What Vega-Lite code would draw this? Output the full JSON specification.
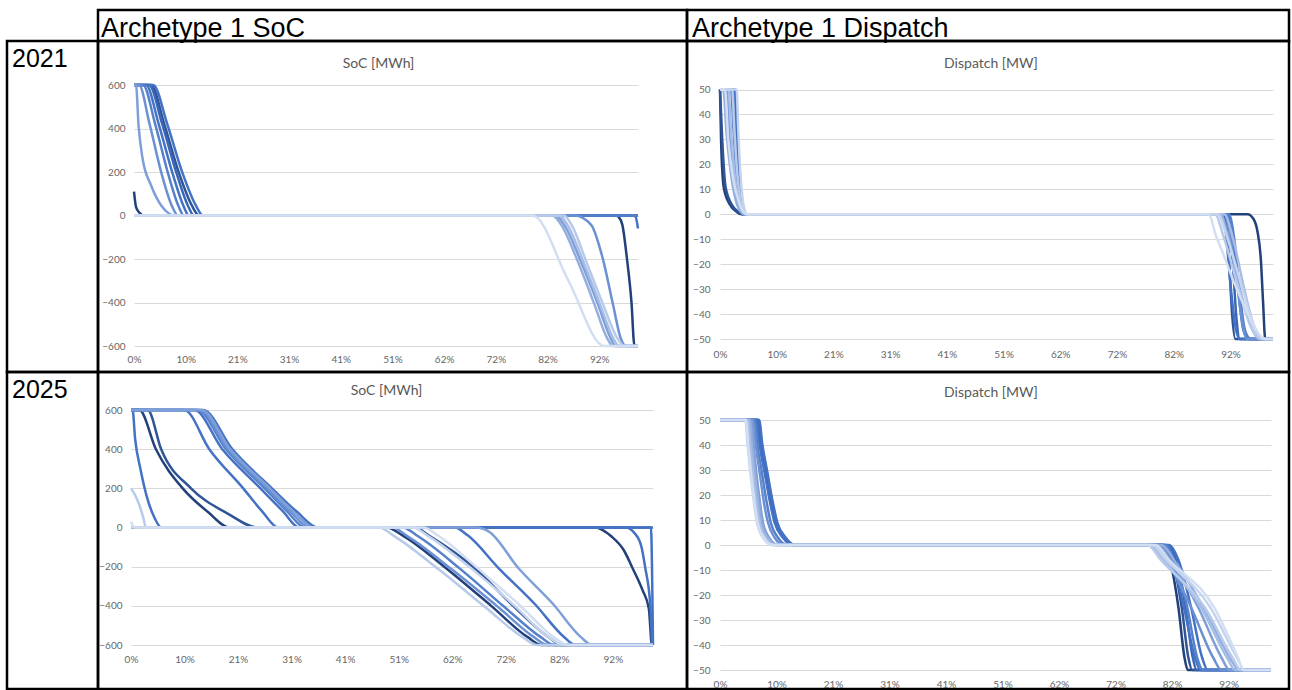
{
"$schema": "https://vega.github.io/schema/vega-lite/v6.json",
"background": "white",
"padding": {"left": 5, "top": 8, "right": 0, "bottom": 0},
"config": {
  "view": {"stroke": "black", "strokeWidth": 2.5},
  "axis": {"labelFont": "Lato", "labelFontSize": 10, "labelColor": "#666666", "domain": false, "ticks": false, "labelFlush": false, "labelOverlap": false, "gridColor": "#D9D9D9", "gridWidth": 1},
  "axisX": {"grid": false},
  "axisY": {"grid": true},
  "title": {"font": "Lato", "fontSize": 14, "fontWeight": "normal", "color": "#595959", "anchor": "middle"},
  "line": {"interpolate": "monotone", "strokeWidth": 2.5}
},
"datasets": {
"soc21": [
{"s":1,"c":1,"t":0,"v":110},{"s":1,"c":1,"t":0.004,"v":40},{"s":1,"c":1,"t":0.01,"v":15},{"s":1,"c":1,"t":0.02,"v":0},{"s":1,"c":1,"t":0.956,"v":0},{"s":1,"c":1,"t":0.962,"v":-8},{"s":1,"c":1,"t":0.969,"v":-43},{"s":1,"c":1,"t":0.978,"v":-197},{"s":1,"c":1,"t":0.987,"v":-397},{"s":1,"c":1,"t":0.993,"v":-600},{"s":1,"c":1,"t":1,"v":-600},
{"s":2,"c":2,"t":0,"v":600},{"s":2,"c":2,"t":0.034,"v":600},{"s":2,"c":2,"t":0.06,"v":420},{"s":2,"c":2,"t":0.09,"v":190},{"s":2,"c":2,"t":0.115,"v":45},{"s":2,"c":2,"t":0.129,"v":0},{"s":2,"c":2,"t":1,"v":0},
{"s":3,"c":3,"t":0,"v":600},{"s":3,"c":3,"t":0.03,"v":600},{"s":3,"c":3,"t":0.056,"v":420},{"s":3,"c":3,"t":0.085,"v":190},{"s":3,"c":3,"t":0.107,"v":45},{"s":3,"c":3,"t":0.119,"v":0},{"s":3,"c":3,"t":1,"v":0},
{"s":4,"c":4,"t":0,"v":600},{"s":4,"c":4,"t":0.038,"v":600},{"s":4,"c":4,"t":0.066,"v":420},{"s":4,"c":4,"t":0.097,"v":190},{"s":4,"c":4,"t":0.123,"v":45},{"s":4,"c":4,"t":0.137,"v":0},{"s":4,"c":4,"t":0.99,"v":0},{"s":4,"c":4,"t":0.995,"v":-5},{"s":4,"c":4,"t":1,"v":-60},
{"s":5,"c":4,"t":0,"v":600},{"s":5,"c":4,"t":0.024,"v":600},{"s":5,"c":4,"t":0.049,"v":420},{"s":5,"c":4,"t":0.077,"v":190},{"s":5,"c":4,"t":0.098,"v":45},{"s":5,"c":4,"t":0.109,"v":0},{"s":5,"c":4,"t":1,"v":0},
{"s":6,"c":5,"t":0,"v":600},{"s":6,"c":5,"t":0.018,"v":600},{"s":6,"c":5,"t":0.042,"v":420},{"s":6,"c":5,"t":0.068,"v":190},{"s":6,"c":5,"t":0.088,"v":45},{"s":6,"c":5,"t":0.099,"v":0},{"s":6,"c":5,"t":1,"v":0},
{"s":7,"c":6,"t":0,"v":600},{"s":7,"c":6,"t":0.01,"v":600},{"s":7,"c":6,"t":0.031,"v":420},{"s":7,"c":6,"t":0.055,"v":190},{"s":7,"c":6,"t":0.075,"v":45},{"s":7,"c":6,"t":0.087,"v":0},{"s":7,"c":6,"t":0.874,"v":0},{"s":7,"c":6,"t":0.907,"v":-43},{"s":7,"c":6,"t":0.93,"v":-197},{"s":7,"c":6,"t":0.95,"v":-405},{"s":7,"c":6,"t":0.966,"v":-566},{"s":7,"c":6,"t":0.976,"v":-600},{"s":7,"c":6,"t":1,"v":-600},
{"s":8,"c":7,"t":0,"v":600},{"s":8,"c":7,"t":0.004,"v":600},{"s":8,"c":7,"t":0.009,"v":415},{"s":8,"c":7,"t":0.017,"v":262},{"s":8,"c":7,"t":0.034,"v":138},{"s":8,"c":7,"t":0.054,"v":46},{"s":8,"c":7,"t":0.07,"v":8},{"s":8,"c":7,"t":0.08,"v":0},{"s":8,"c":7,"t":0.835,"v":0},{"s":8,"c":7,"t":0.858,"v":-60},{"s":8,"c":7,"t":0.884,"v":-197},{"s":8,"c":7,"t":0.92,"v":-405},{"s":8,"c":7,"t":0.945,"v":-560},{"s":8,"c":7,"t":0.955,"v":-600},{"s":8,"c":7,"t":1,"v":-600},
{"s":9,"c":8,"t":0,"v":0},{"s":9,"c":8,"t":0.83,"v":0},{"s":9,"c":8,"t":0.852,"v":-60},{"s":9,"c":8,"t":0.878,"v":-197},{"s":9,"c":8,"t":0.913,"v":-405},{"s":9,"c":8,"t":0.938,"v":-560},{"s":9,"c":8,"t":0.95,"v":-600},{"s":9,"c":8,"t":1,"v":-600},
{"s":10,"c":9,"t":0,"v":0},{"s":10,"c":9,"t":0.842,"v":0},{"s":10,"c":9,"t":0.864,"v":-60},{"s":10,"c":9,"t":0.889,"v":-197},{"s":10,"c":9,"t":0.924,"v":-405},{"s":10,"c":9,"t":0.95,"v":-560},{"s":10,"c":9,"t":0.962,"v":-600},{"s":10,"c":9,"t":1,"v":-600},
{"s":11,"c":10,"t":0,"v":0},{"s":11,"c":10,"t":0.852,"v":0},{"s":11,"c":10,"t":0.872,"v":-60},{"s":11,"c":10,"t":0.895,"v":-197},{"s":11,"c":10,"t":0.93,"v":-405},{"s":11,"c":10,"t":0.958,"v":-560},{"s":11,"c":10,"t":0.973,"v":-600},{"s":11,"c":10,"t":1,"v":-600},
{"s":12,"c":12,"t":0,"v":0},{"s":12,"c":12,"t":0.791,"v":0},{"s":12,"c":12,"t":0.862,"v":-300},{"s":12,"c":12,"t":0.933,"v":-600},{"s":12,"c":12,"t":1,"v":-600}
],
"dis21": [
{"s":1,"c":1,"t":0,"v":50},{"s":1,"c":1,"t":0.002,"v":29},{"s":1,"c":1,"t":0.007,"v":10.5},{"s":1,"c":1,"t":0.018,"v":3.8},{"s":1,"c":1,"t":0.03,"v":1},{"s":1,"c":1,"t":0.039,"v":0},{"s":1,"c":1,"t":0.954,"v":0},{"s":1,"c":1,"t":0.965,"v":-2},{"s":1,"c":1,"t":0.972,"v":-7},{"s":1,"c":1,"t":0.978,"v":-18},{"s":1,"c":1,"t":0.982,"v":-35},{"s":1,"c":1,"t":0.986,"v":-50},{"s":1,"c":1,"t":1,"v":-50},
{"s":2,"c":2,"t":0,"v":50},{"s":2,"c":2,"t":0.004,"v":30},{"s":2,"c":2,"t":0.01,"v":11},{"s":2,"c":2,"t":0.021,"v":4},{"s":2,"c":2,"t":0.033,"v":1},{"s":2,"c":2,"t":0.042,"v":0},{"s":2,"c":2,"t":0.91,"v":0},{"s":2,"c":2,"t":0.916,"v":-5},{"s":2,"c":2,"t":0.921,"v":-20},{"s":2,"c":2,"t":0.926,"v":-40},{"s":2,"c":2,"t":0.932,"v":-50},{"s":2,"c":2,"t":1,"v":-50},
{"s":3,"c":3,"t":0,"v":50},{"s":3,"c":3,"t":0.026,"v":50},{"s":3,"c":3,"t":0.029,"v":38},{"s":3,"c":3,"t":0.033,"v":18},{"s":3,"c":3,"t":0.037,"v":6},{"s":3,"c":3,"t":0.041,"v":1.5},{"s":3,"c":3,"t":0.046,"v":0},{"s":3,"c":3,"t":0.915,"v":0},{"s":3,"c":3,"t":0.922,"v":-6},{"s":3,"c":3,"t":0.928,"v":-22},{"s":3,"c":3,"t":0.934,"v":-42},{"s":3,"c":3,"t":0.94,"v":-50},{"s":3,"c":3,"t":1,"v":-50},
{"s":4,"c":4,"t":0,"v":50},{"s":4,"c":4,"t":0.024,"v":50},{"s":4,"c":4,"t":0.027,"v":40},{"s":4,"c":4,"t":0.031,"v":20},{"s":4,"c":4,"t":0.034,"v":8},{"s":4,"c":4,"t":0.038,"v":2},{"s":4,"c":4,"t":0.044,"v":0},{"s":4,"c":4,"t":0.908,"v":0},{"s":4,"c":4,"t":0.915,"v":-8},{"s":4,"c":4,"t":0.923,"v":-28},{"s":4,"c":4,"t":0.932,"v":-45},{"s":4,"c":4,"t":0.94,"v":-50},{"s":4,"c":4,"t":1,"v":-50},
{"s":5,"c":4,"t":0,"v":50},{"s":5,"c":4,"t":0.028,"v":50},{"s":5,"c":4,"t":0.031,"v":38},{"s":5,"c":4,"t":0.035,"v":18},{"s":5,"c":4,"t":0.039,"v":6},{"s":5,"c":4,"t":0.043,"v":1.5},{"s":5,"c":4,"t":0.047,"v":0},{"s":5,"c":4,"t":0.918,"v":0},{"s":5,"c":4,"t":0.927,"v":-8},{"s":5,"c":4,"t":0.936,"v":-28},{"s":5,"c":4,"t":0.946,"v":-46},{"s":5,"c":4,"t":0.955,"v":-50},{"s":5,"c":4,"t":1,"v":-50},
{"s":6,"c":5,"t":0,"v":50},{"s":6,"c":5,"t":0.02,"v":50},{"s":6,"c":5,"t":0.024,"v":36},{"s":6,"c":5,"t":0.029,"v":17},{"s":6,"c":5,"t":0.034,"v":6},{"s":6,"c":5,"t":0.039,"v":1.5},{"s":6,"c":5,"t":0.045,"v":0},{"s":6,"c":5,"t":0.92,"v":0},{"s":6,"c":5,"t":0.93,"v":-10},{"s":6,"c":5,"t":0.94,"v":-32},{"s":6,"c":5,"t":0.95,"v":-47},{"s":6,"c":5,"t":0.96,"v":-50},{"s":6,"c":5,"t":1,"v":-50},
{"s":7,"c":6,"t":0,"v":50},{"s":7,"c":6,"t":0.012,"v":50},{"s":7,"c":6,"t":0.017,"v":32},{"s":7,"c":6,"t":0.024,"v":15},{"s":7,"c":6,"t":0.031,"v":5},{"s":7,"c":6,"t":0.038,"v":1},{"s":7,"c":6,"t":0.044,"v":0},{"s":7,"c":6,"t":0.912,"v":0},{"s":7,"c":6,"t":0.922,"v":-8},{"s":7,"c":6,"t":0.935,"v":-28},{"s":7,"c":6,"t":0.945,"v":-44},{"s":7,"c":6,"t":0.952,"v":-50},{"s":7,"c":6,"t":1,"v":-50},
{"s":8,"c":8,"t":0,"v":50},{"s":8,"c":8,"t":0.006,"v":50},{"s":8,"c":8,"t":0.012,"v":32},{"s":8,"c":8,"t":0.02,"v":16},{"s":8,"c":8,"t":0.028,"v":6},{"s":8,"c":8,"t":0.036,"v":1.5},{"s":8,"c":8,"t":0.045,"v":0},{"s":8,"c":8,"t":0.905,"v":0},{"s":8,"c":8,"t":0.92,"v":-10},{"s":8,"c":8,"t":0.94,"v":-30},{"s":8,"c":8,"t":0.96,"v":-45},{"s":8,"c":8,"t":0.975,"v":-50},{"s":8,"c":8,"t":1,"v":-50},
{"s":9,"c":9,"t":0,"v":50},{"s":9,"c":9,"t":0.015,"v":50},{"s":9,"c":9,"t":0.02,"v":33},{"s":9,"c":9,"t":0.026,"v":17},{"s":9,"c":9,"t":0.032,"v":7},{"s":9,"c":9,"t":0.039,"v":2},{"s":9,"c":9,"t":0.047,"v":0},{"s":9,"c":9,"t":0.912,"v":0},{"s":9,"c":9,"t":0.928,"v":-10},{"s":9,"c":9,"t":0.948,"v":-30},{"s":9,"c":9,"t":0.966,"v":-45},{"s":9,"c":9,"t":0.98,"v":-50},{"s":9,"c":9,"t":1,"v":-50},
{"s":10,"c":10,"t":0,"v":50},{"s":10,"c":10,"t":0.022,"v":50},{"s":10,"c":10,"t":0.026,"v":34},{"s":10,"c":10,"t":0.031,"v":17},{"s":10,"c":10,"t":0.036,"v":7},{"s":10,"c":10,"t":0.041,"v":2},{"s":10,"c":10,"t":0.048,"v":0},{"s":10,"c":10,"t":0.895,"v":0},{"s":10,"c":10,"t":0.912,"v":-10},{"s":10,"c":10,"t":0.938,"v":-30},{"s":10,"c":10,"t":0.962,"v":-46},{"s":10,"c":10,"t":0.978,"v":-50},{"s":10,"c":10,"t":1,"v":-50},
{"s":11,"c":11,"t":0,"v":50},{"s":11,"c":11,"t":0.03,"v":50},{"s":11,"c":11,"t":0.033,"v":34},{"s":11,"c":11,"t":0.037,"v":16},{"s":11,"c":11,"t":0.041,"v":6},{"s":11,"c":11,"t":0.045,"v":1.5},{"s":11,"c":11,"t":0.049,"v":0},{"s":11,"c":11,"t":0.9,"v":0},{"s":11,"c":11,"t":0.918,"v":-10},{"s":11,"c":11,"t":0.945,"v":-30},{"s":11,"c":11,"t":0.968,"v":-46},{"s":11,"c":11,"t":0.986,"v":-50},{"s":11,"c":11,"t":1,"v":-50},
{"s":12,"c":12,"t":0,"v":50},{"s":12,"c":12,"t":0.009,"v":50},{"s":12,"c":12,"t":0.015,"v":30},{"s":12,"c":12,"t":0.024,"v":14},{"s":12,"c":12,"t":0.034,"v":5},{"s":12,"c":12,"t":0.042,"v":1},{"s":12,"c":12,"t":0.05,"v":0},{"s":12,"c":12,"t":0.884,"v":0},{"s":12,"c":12,"t":0.896,"v":-8},{"s":12,"c":12,"t":0.912,"v":-17},{"s":12,"c":12,"t":0.929,"v":-27},{"s":12,"c":12,"t":0.955,"v":-40},{"s":12,"c":12,"t":0.978,"v":-49},{"s":12,"c":12,"t":0.985,"v":-50},{"s":12,"c":12,"t":1,"v":-50}
],
"soc25": [
{"s":1,"c":1,"t":0,"v":600},{"s":1,"c":1,"t":0.016,"v":600},{"s":1,"c":1,"t":0.048,"v":398},{"s":1,"c":1,"t":0.099,"v":200},{"s":1,"c":1,"t":0.147,"v":80},{"s":1,"c":1,"t":0.189,"v":0},{"s":1,"c":1,"t":0.49,"v":0},{"s":1,"c":1,"t":0.52,"v":-40},{"s":1,"c":1,"t":0.6,"v":-200},{"s":1,"c":1,"t":0.69,"v":-400},{"s":1,"c":1,"t":0.76,"v":-560},{"s":1,"c":1,"t":0.787,"v":-600},{"s":1,"c":1,"t":1,"v":-600},
{"s":3,"c":1,"t":0,"v":0},{"s":3,"c":1,"t":0.889,"v":0},{"s":3,"c":1,"t":0.92,"v":-45},{"s":3,"c":1,"t":0.945,"v":-120},{"s":3,"c":1,"t":0.96,"v":-203},{"s":3,"c":1,"t":0.98,"v":-320},{"s":3,"c":1,"t":0.992,"v":-414},{"s":3,"c":1,"t":0.998,"v":-600},{"s":3,"c":1,"t":1,"v":-600},
{"s":2,"c":2,"t":0,"v":600},{"s":2,"c":2,"t":0.032,"v":600},{"s":2,"c":2,"t":0.058,"v":398},{"s":2,"c":2,"t":0.115,"v":200},{"s":2,"c":2,"t":0.186,"v":70},{"s":2,"c":2,"t":0.243,"v":0},{"s":2,"c":2,"t":0.544,"v":0},{"s":2,"c":2,"t":0.57,"v":-40},{"s":2,"c":2,"t":0.658,"v":-207},{"s":2,"c":2,"t":0.729,"v":-392},{"s":2,"c":2,"t":0.8,"v":-560},{"s":2,"c":2,"t":0.825,"v":-600},{"s":2,"c":2,"t":1,"v":-600},
{"s":4,"c":4,"t":0,"v":600},{"s":4,"c":4,"t":0.003,"v":600},{"s":4,"c":4,"t":0.008,"v":450},{"s":4,"c":4,"t":0.018,"v":300},{"s":4,"c":4,"t":0.03,"v":160},{"s":4,"c":4,"t":0.045,"v":50},{"s":4,"c":4,"t":0.058,"v":0},{"s":4,"c":4,"t":0.947,"v":0},{"s":4,"c":4,"t":0.965,"v":-30},{"s":4,"c":4,"t":0.978,"v":-100},{"s":4,"c":4,"t":0.985,"v":-203},{"s":4,"c":4,"t":0.995,"v":-403},{"s":4,"c":4,"t":0.999,"v":-600},{"s":4,"c":4,"t":1,"v":-600},
{"s":6,"c":4,"t":0,"v":600},{"s":6,"c":4,"t":0.121,"v":600},{"s":6,"c":4,"t":0.175,"v":400},{"s":6,"c":4,"t":0.248,"v":200},{"s":6,"c":4,"t":0.292,"v":80},{"s":6,"c":4,"t":0.322,"v":0},{"s":6,"c":4,"t":0.62,"v":0},{"s":6,"c":4,"t":0.645,"v":-40},{"s":6,"c":4,"t":0.704,"v":-207},{"s":6,"c":4,"t":0.774,"v":-392},{"s":6,"c":4,"t":0.83,"v":-560},{"s":6,"c":4,"t":0.851,"v":-600},{"s":6,"c":4,"t":1,"v":-600},
{"s":10,"c":4,"t":0,"v":600},{"s":10,"c":4,"t":0.102,"v":600},{"s":10,"c":4,"t":0.15,"v":400},{"s":10,"c":4,"t":0.215,"v":200},{"s":10,"c":4,"t":0.252,"v":80},{"s":10,"c":4,"t":0.282,"v":0},{"s":10,"c":4,"t":1,"v":0},
{"s":5,"c":4,"t":0,"v":600},{"s":5,"c":4,"t":0.138,"v":600},{"s":5,"c":4,"t":0.194,"v":400},{"s":5,"c":4,"t":0.27,"v":200},{"s":5,"c":4,"t":0.318,"v":80},{"s":5,"c":4,"t":0.358,"v":0},{"s":5,"c":4,"t":0.996,"v":0},{"s":5,"c":4,"t":1,"v":-600},
{"s":7,"c":5,"t":0,"v":600},{"s":7,"c":5,"t":0.127,"v":600},{"s":7,"c":5,"t":0.182,"v":400},{"s":7,"c":5,"t":0.256,"v":200},{"s":7,"c":5,"t":0.3,"v":80},{"s":7,"c":5,"t":0.333,"v":0},{"s":7,"c":5,"t":0.52,"v":0},{"s":7,"c":5,"t":0.55,"v":-45},{"s":7,"c":5,"t":0.63,"v":-210},{"s":7,"c":5,"t":0.715,"v":-405},{"s":7,"c":5,"t":0.785,"v":-560},{"s":7,"c":5,"t":0.81,"v":-600},{"s":7,"c":5,"t":1,"v":-600},
{"s":8,"c":6,"t":0,"v":600},{"s":8,"c":6,"t":0.131,"v":600},{"s":8,"c":6,"t":0.186,"v":400},{"s":8,"c":6,"t":0.261,"v":200},{"s":8,"c":6,"t":0.306,"v":80},{"s":8,"c":6,"t":0.342,"v":0},{"s":8,"c":6,"t":0.5,"v":0},{"s":8,"c":6,"t":0.53,"v":-45},{"s":8,"c":6,"t":0.615,"v":-215},{"s":8,"c":6,"t":0.705,"v":-410},{"s":8,"c":6,"t":0.772,"v":-560},{"s":8,"c":6,"t":0.798,"v":-600},{"s":8,"c":6,"t":1,"v":-600},
{"s":9,"c":7,"t":0,"v":600},{"s":9,"c":7,"t":0.135,"v":600},{"s":9,"c":7,"t":0.19,"v":400},{"s":9,"c":7,"t":0.266,"v":200},{"s":9,"c":7,"t":0.312,"v":80},{"s":9,"c":7,"t":0.35,"v":0},{"s":9,"c":7,"t":0.66,"v":0},{"s":9,"c":7,"t":0.685,"v":-20},{"s":9,"c":7,"t":0.742,"v":-207},{"s":9,"c":7,"t":0.809,"v":-392},{"s":9,"c":7,"t":0.862,"v":-560},{"s":9,"c":7,"t":0.883,"v":-600},{"s":9,"c":7,"t":1,"v":-600},
{"s":11,"c":10,"t":0,"v":200},{"s":11,"c":10,"t":0.008,"v":165},{"s":11,"c":10,"t":0.016,"v":115},{"s":11,"c":10,"t":0.023,"v":55},{"s":11,"c":10,"t":0.029,"v":0},{"s":11,"c":10,"t":0.475,"v":0},{"s":11,"c":10,"t":0.505,"v":-45},{"s":11,"c":10,"t":0.59,"v":-215},{"s":11,"c":10,"t":0.68,"v":-410},{"s":11,"c":10,"t":0.75,"v":-560},{"s":11,"c":10,"t":0.778,"v":-600},{"s":11,"c":10,"t":1,"v":-600},
{"s":13,"c":11,"t":0,"v":0},{"s":13,"c":11,"t":0.54,"v":0},{"s":13,"c":11,"t":0.57,"v":-45},{"s":13,"c":11,"t":0.65,"v":-205},{"s":13,"c":11,"t":0.735,"v":-400},{"s":13,"c":11,"t":0.8,"v":-560},{"s":13,"c":11,"t":0.83,"v":-600},{"s":13,"c":11,"t":1,"v":-600},
{"s":12,"c":12,"t":0,"v":30},{"s":12,"c":12,"t":0.004,"v":8},{"s":12,"c":12,"t":0.008,"v":0},{"s":12,"c":12,"t":0.56,"v":0},{"s":12,"c":12,"t":0.59,"v":-45},{"s":12,"c":12,"t":0.665,"v":-210},{"s":12,"c":12,"t":0.748,"v":-405},{"s":12,"c":12,"t":0.81,"v":-560},{"s":12,"c":12,"t":0.838,"v":-600},{"s":12,"c":12,"t":1,"v":-600}
],
"dis25": [
{"s":1,"c":1,"t":0,"v":50},{"s":1,"c":1,"t":0.069,"v":50},{"s":1,"c":1,"t":0.075,"v":40},{"s":1,"c":1,"t":0.084,"v":29},{"s":1,"c":1,"t":0.093,"v":18},{"s":1,"c":1,"t":0.102,"v":9},{"s":1,"c":1,"t":0.117,"v":3},{"s":1,"c":1,"t":0.134,"v":0},{"s":1,"c":1,"t":0.8,"v":0},{"s":1,"c":1,"t":0.815,"v":-5},{"s":1,"c":1,"t":0.832,"v":-25},{"s":1,"c":1,"t":0.843,"v":-45},{"s":1,"c":1,"t":0.849,"v":-50},{"s":1,"c":1,"t":1,"v":-50},
{"s":2,"c":2,"t":0,"v":50},{"s":2,"c":2,"t":0.067,"v":50},{"s":2,"c":2,"t":0.073,"v":40},{"s":2,"c":2,"t":0.082,"v":29},{"s":2,"c":2,"t":0.091,"v":18},{"s":2,"c":2,"t":0.1,"v":9},{"s":2,"c":2,"t":0.115,"v":3},{"s":2,"c":2,"t":0.132,"v":0},{"s":2,"c":2,"t":0.805,"v":0},{"s":2,"c":2,"t":0.82,"v":-5},{"s":2,"c":2,"t":0.838,"v":-25},{"s":2,"c":2,"t":0.85,"v":-45},{"s":2,"c":2,"t":0.857,"v":-50},{"s":2,"c":2,"t":1,"v":-50},
{"s":3,"c":3,"t":0,"v":50},{"s":3,"c":3,"t":0.07,"v":50},{"s":3,"c":3,"t":0.076,"v":40},{"s":3,"c":3,"t":0.085,"v":29},{"s":3,"c":3,"t":0.094,"v":18},{"s":3,"c":3,"t":0.103,"v":9},{"s":3,"c":3,"t":0.118,"v":3},{"s":3,"c":3,"t":0.135,"v":0},{"s":3,"c":3,"t":0.81,"v":0},{"s":3,"c":3,"t":0.826,"v":-5},{"s":3,"c":3,"t":0.845,"v":-25},{"s":3,"c":3,"t":0.858,"v":-45},{"s":3,"c":3,"t":0.865,"v":-50},{"s":3,"c":3,"t":1,"v":-50},
{"s":4,"c":4,"t":0,"v":50},{"s":4,"c":4,"t":0.066,"v":50},{"s":4,"c":4,"t":0.072,"v":40},{"s":4,"c":4,"t":0.081,"v":29},{"s":4,"c":4,"t":0.09,"v":18},{"s":4,"c":4,"t":0.099,"v":9},{"s":4,"c":4,"t":0.114,"v":3},{"s":4,"c":4,"t":0.131,"v":0},{"s":4,"c":4,"t":0.803,"v":0},{"s":4,"c":4,"t":0.82,"v":-6},{"s":4,"c":4,"t":0.842,"v":-25},{"s":4,"c":4,"t":0.862,"v":-45},{"s":4,"c":4,"t":0.872,"v":-50},{"s":4,"c":4,"t":1,"v":-50},
{"s":5,"c":4,"t":0,"v":50},{"s":5,"c":4,"t":0.071,"v":50},{"s":5,"c":4,"t":0.077,"v":40},{"s":5,"c":4,"t":0.086,"v":29},{"s":5,"c":4,"t":0.095,"v":18},{"s":5,"c":4,"t":0.104,"v":9},{"s":5,"c":4,"t":0.119,"v":3},{"s":5,"c":4,"t":0.136,"v":0},{"s":5,"c":4,"t":0.815,"v":0},{"s":5,"c":4,"t":0.832,"v":-6},{"s":5,"c":4,"t":0.855,"v":-25},{"s":5,"c":4,"t":0.875,"v":-45},{"s":5,"c":4,"t":0.885,"v":-50},{"s":5,"c":4,"t":1,"v":-50},
{"s":6,"c":5,"t":0,"v":50},{"s":6,"c":5,"t":0.063,"v":50},{"s":6,"c":5,"t":0.068,"v":40},{"s":6,"c":5,"t":0.076,"v":29},{"s":6,"c":5,"t":0.084,"v":18},{"s":6,"c":5,"t":0.092,"v":9},{"s":6,"c":5,"t":0.105,"v":3},{"s":6,"c":5,"t":0.122,"v":0},{"s":6,"c":5,"t":0.808,"v":0},{"s":6,"c":5,"t":0.824,"v":-6},{"s":6,"c":5,"t":0.848,"v":-25},{"s":6,"c":5,"t":0.866,"v":-45},{"s":6,"c":5,"t":0.876,"v":-50},{"s":6,"c":5,"t":1,"v":-50},
{"s":7,"c":6,"t":0,"v":50},{"s":7,"c":6,"t":0.06,"v":50},{"s":7,"c":6,"t":0.065,"v":40},{"s":7,"c":6,"t":0.072,"v":29},{"s":7,"c":6,"t":0.079,"v":18},{"s":7,"c":6,"t":0.087,"v":9},{"s":7,"c":6,"t":0.099,"v":3},{"s":7,"c":6,"t":0.115,"v":0},{"s":7,"c":6,"t":0.79,"v":0},{"s":7,"c":6,"t":0.81,"v":-6},{"s":7,"c":6,"t":0.855,"v":-25},{"s":7,"c":6,"t":0.895,"v":-45},{"s":7,"c":6,"t":0.91,"v":-50},{"s":7,"c":6,"t":1,"v":-50},
{"s":8,"c":7,"t":0,"v":50},{"s":8,"c":7,"t":0.057,"v":50},{"s":8,"c":7,"t":0.061,"v":40},{"s":8,"c":7,"t":0.066,"v":29},{"s":8,"c":7,"t":0.072,"v":18},{"s":8,"c":7,"t":0.078,"v":9},{"s":8,"c":7,"t":0.089,"v":3},{"s":8,"c":7,"t":0.105,"v":0},{"s":8,"c":7,"t":0.795,"v":0},{"s":8,"c":7,"t":0.818,"v":-6},{"s":8,"c":7,"t":0.868,"v":-25},{"s":8,"c":7,"t":0.91,"v":-45},{"s":8,"c":7,"t":0.925,"v":-50},{"s":8,"c":7,"t":1,"v":-50},
{"s":9,"c":8,"t":0,"v":50},{"s":9,"c":8,"t":0.054,"v":50},{"s":9,"c":8,"t":0.058,"v":40},{"s":9,"c":8,"t":0.063,"v":29},{"s":9,"c":8,"t":0.069,"v":18},{"s":9,"c":8,"t":0.075,"v":9},{"s":9,"c":8,"t":0.086,"v":3},{"s":9,"c":8,"t":0.102,"v":0},{"s":9,"c":8,"t":0.8,"v":0},{"s":9,"c":8,"t":0.83,"v":-8},{"s":9,"c":8,"t":0.885,"v":-28},{"s":9,"c":8,"t":0.925,"v":-45},{"s":9,"c":8,"t":0.942,"v":-50},{"s":9,"c":8,"t":1,"v":-50},
{"s":10,"c":9,"t":0,"v":50},{"s":10,"c":9,"t":0.051,"v":50},{"s":10,"c":9,"t":0.055,"v":40},{"s":10,"c":9,"t":0.06,"v":29},{"s":10,"c":9,"t":0.066,"v":18},{"s":10,"c":9,"t":0.072,"v":9},{"s":10,"c":9,"t":0.083,"v":3},{"s":10,"c":9,"t":0.099,"v":0},{"s":10,"c":9,"t":0.78,"v":0},{"s":10,"c":9,"t":0.805,"v":-6},{"s":10,"c":9,"t":0.873,"v":-25},{"s":10,"c":9,"t":0.92,"v":-45},{"s":10,"c":9,"t":0.935,"v":-50},{"s":10,"c":9,"t":1,"v":-50},
{"s":11,"c":10,"t":0,"v":50},{"s":11,"c":10,"t":0.048,"v":50},{"s":11,"c":10,"t":0.052,"v":40},{"s":11,"c":10,"t":0.057,"v":29},{"s":11,"c":10,"t":0.063,"v":18},{"s":11,"c":10,"t":0.069,"v":9},{"s":11,"c":10,"t":0.08,"v":3},{"s":11,"c":10,"t":0.096,"v":0},{"s":11,"c":10,"t":0.776,"v":0},{"s":11,"c":10,"t":0.8,"v":-6},{"s":11,"c":10,"t":0.88,"v":-25},{"s":11,"c":10,"t":0.93,"v":-45},{"s":11,"c":10,"t":0.945,"v":-50},{"s":11,"c":10,"t":1,"v":-50},
{"s":12,"c":11,"t":0,"v":50},{"s":12,"c":11,"t":0.046,"v":50},{"s":12,"c":11,"t":0.05,"v":40},{"s":12,"c":11,"t":0.055,"v":29},{"s":12,"c":11,"t":0.061,"v":18},{"s":12,"c":11,"t":0.067,"v":9},{"s":12,"c":11,"t":0.078,"v":3},{"s":12,"c":11,"t":0.094,"v":0},{"s":12,"c":11,"t":0.785,"v":0},{"s":12,"c":11,"t":0.81,"v":-6},{"s":12,"c":11,"t":0.89,"v":-25},{"s":12,"c":11,"t":0.938,"v":-45},{"s":12,"c":11,"t":0.952,"v":-50},{"s":12,"c":11,"t":1,"v":-50},
{"s":13,"c":12,"t":0,"v":50},{"s":13,"c":12,"t":0.047,"v":50},{"s":13,"c":12,"t":0.051,"v":40},{"s":13,"c":12,"t":0.056,"v":29},{"s":13,"c":12,"t":0.062,"v":18},{"s":13,"c":12,"t":0.068,"v":9},{"s":13,"c":12,"t":0.079,"v":3},{"s":13,"c":12,"t":0.095,"v":0},{"s":13,"c":12,"t":0.79,"v":0},{"s":13,"c":12,"t":0.815,"v":-6},{"s":13,"c":12,"t":0.897,"v":-25},{"s":13,"c":12,"t":0.94,"v":-45},{"s":13,"c":12,"t":0.95,"v":-50},{"s":13,"c":12,"t":1,"v":-50}
]
},
"columns": 3,
"spacing": 0,
"bounds": "flush",
"align": "each",
"concat": [
  {"width": 91, "height": 31, "data": {"values": [{"t": ""}]}, "mark": {"type": "text"}, "encoding": {"text": {"field": "t"}}},
  {"width": 589, "height": 31, "data": {"values": [{"t": "Archetype 1 SoC"}]},
   "mark": {"type": "text", "align": "left", "baseline": "alphabetic", "font": "Liberation Sans", "fontSize": 27, "color": "black", "dx": 3, "dy": -4},
   "encoding": {"text": {"field": "t"},
     "x": {"datum": 0, "type": "quantitative", "scale": {"domain": [0, 1]}, "axis": null},
     "y": {"datum": 0, "type": "quantitative", "scale": {"domain": [0, 1]}, "axis": null}}},
  {"width": 602, "height": 31, "data": {"values": [{"t": "Archetype 1 Dispatch"}]},
   "mark": {"type": "text", "align": "left", "baseline": "alphabetic", "font": "Liberation Sans", "fontSize": 27, "color": "black", "dx": 5, "dy": -4},
   "encoding": {"text": {"field": "t"},
     "x": {"datum": 0, "type": "quantitative", "scale": {"domain": [0, 1]}, "axis": null},
     "y": {"datum": 0, "type": "quantitative", "scale": {"domain": [0, 1]}, "axis": null}}},
  {"width": 91, "height": 331, "data": {"values": [{"t": "2021"}]},
   "mark": {"type": "text", "align": "left", "baseline": "top", "font": "Liberation Sans", "fontSize": 25, "color": "black", "dx": 5, "dy": 6},
   "encoding": {"text": {"field": "t"},
     "x": {"datum": 0, "type": "quantitative", "scale": {"domain": [0, 1]}, "axis": null},
     "y": {"datum": 1, "type": "quantitative", "scale": {"domain": [0, 1]}, "axis": null}}},
  {"width": 589, "height": 331, "data": {"name": "soc21"},
   "title": {"text": "SoC [MWh]", "offset": -30, "dx": -14},
   "mark": {"type": "line"},
   "encoding": {
     "x": {"field": "t", "type": "quantitative", "scale": {"domain": [0, 1], "range": [36, 540], "nice": false, "zero": false},
       "axis": {"title": null, "offset": -26, "labelPadding": 8, "format": ".0%", "values": [0, 0.102564, 0.205128, 0.307692, 0.410256, 0.512821, 0.615385, 0.717949, 0.820513, 0.923077]}},
     "y": {"field": "v", "type": "quantitative", "scale": {"domain": [-600, 600], "range": [305, 44], "nice": false, "zero": false},
       "axis": {"title": null, "offset": -36, "labelPadding": 9, "values": [-600, -400, -200, 0, 200, 400, 600]}},
     "color": {"field": "c", "type": "nominal", "scale": {"domain": [1,2,3,4,5,6,7,8,9,10,11,12], "range": ["#22407A","#2F5597","#3A66B8","#4472C4","#5581CC","#6B91D3","#7F9FD9","#94AFDF","#A6BDE5","#B7CAEA","#C5D4EE","#D3DEF2"]}, "legend": null},
     "detail": {"field": "s", "type": "nominal"}}},
  {"width": 602, "height": 331, "data": {"name": "dis21"},
   "title": {"text": "Dispatch [MW]", "offset": -30, "dx": 3},
   "mark": {"type": "line"},
   "encoding": {
     "x": {"field": "t", "type": "quantitative", "scale": {"domain": [0, 1], "range": [33, 586], "nice": false, "zero": false},
       "axis": {"title": null, "offset": -33, "labelPadding": 10, "format": ".0%", "values": [0, 0.102564, 0.205128, 0.307692, 0.410256, 0.512821, 0.615385, 0.717949, 0.820513, 0.923077]}},
     "y": {"field": "v", "type": "quantitative", "scale": {"domain": [-50, 50], "range": [298, 48.5], "nice": false, "zero": false},
       "axis": {"title": null, "offset": -33, "labelPadding": 10, "values": [-50, -40, -30, -20, -10, 0, 10, 20, 30, 40, 50]}},
     "color": {"field": "c", "type": "nominal", "scale": {"domain": [1,2,3,4,5,6,7,8,9,10,11,12], "range": ["#22407A","#2F5597","#3A66B8","#4472C4","#5581CC","#6B91D3","#7F9FD9","#94AFDF","#A6BDE5","#B7CAEA","#C5D4EE","#D3DEF2"]}, "legend": null},
     "detail": {"field": "s", "type": "nominal"}}},
  {"width": 91, "height": 317, "data": {"values": [{"t": "2025"}]},
   "mark": {"type": "text", "align": "left", "baseline": "top", "font": "Liberation Sans", "fontSize": 25, "color": "black", "dx": 5, "dy": 6},
   "encoding": {"text": {"field": "t"},
     "x": {"datum": 0, "type": "quantitative", "scale": {"domain": [0, 1]}, "axis": null},
     "y": {"datum": 1, "type": "quantitative", "scale": {"domain": [0, 1]}, "axis": null}}},
  {"width": 589, "height": 317, "data": {"name": "soc25"},
   "title": {"text": "SoC [MWh]", "offset": -26, "dx": -6},
   "mark": {"type": "line"},
   "encoding": {
     "x": {"field": "t", "type": "quantitative", "scale": {"domain": [0, 1], "range": [33, 555], "nice": false, "zero": false},
       "axis": {"title": null, "offset": -44, "labelPadding": 9, "format": ".0%", "values": [0, 0.102564, 0.205128, 0.307692, 0.410256, 0.512821, 0.615385, 0.717949, 0.820513, 0.923077]}},
     "y": {"field": "v", "type": "quantitative", "scale": {"domain": [-600, 600], "range": [273, 38], "nice": false, "zero": false},
       "axis": {"title": null, "offset": -33, "labelPadding": 9, "values": [-600, -400, -200, 0, 200, 400, 600]}},
     "color": {"field": "c", "type": "nominal", "scale": {"domain": [1,2,3,4,5,6,7,8,9,10,11,12], "range": ["#22407A","#2F5597","#3A66B8","#4472C4","#5581CC","#6B91D3","#7F9FD9","#94AFDF","#A6BDE5","#B7CAEA","#C5D4EE","#D3DEF2"]}, "legend": null},
     "detail": {"field": "s", "type": "nominal"}}},
  {"width": 602, "height": 317, "data": {"name": "dis25"},
   "title": {"text": "Dispatch [MW]", "offset": -28, "dx": 3},
   "mark": {"type": "line"},
   "encoding": {
     "x": {"field": "t", "type": "quantitative", "scale": {"domain": [0, 1], "range": [33, 584], "nice": false, "zero": false},
       "axis": {"title": null, "offset": -19, "labelPadding": 9, "format": ".0%", "values": [0, 0.102564, 0.205128, 0.307692, 0.410256, 0.512821, 0.615385, 0.717949, 0.820513, 0.923077]}},
     "y": {"field": "v", "type": "quantitative", "scale": {"domain": [-50, 50], "range": [298, 48], "nice": false, "zero": false},
       "axis": {"title": null, "offset": -33, "labelPadding": 10, "values": [-50, -40, -30, -20, -10, 0, 10, 20, 30, 40, 50]}},
     "color": {"field": "c", "type": "nominal", "scale": {"domain": [1,2,3,4,5,6,7,8,9,10,11,12], "range": ["#22407A","#2F5597","#3A66B8","#4472C4","#5581CC","#6B91D3","#7F9FD9","#94AFDF","#A6BDE5","#B7CAEA","#C5D4EE","#D3DEF2"]}, "legend": null},
     "detail": {"field": "s", "type": "nominal"}}}
]
}
